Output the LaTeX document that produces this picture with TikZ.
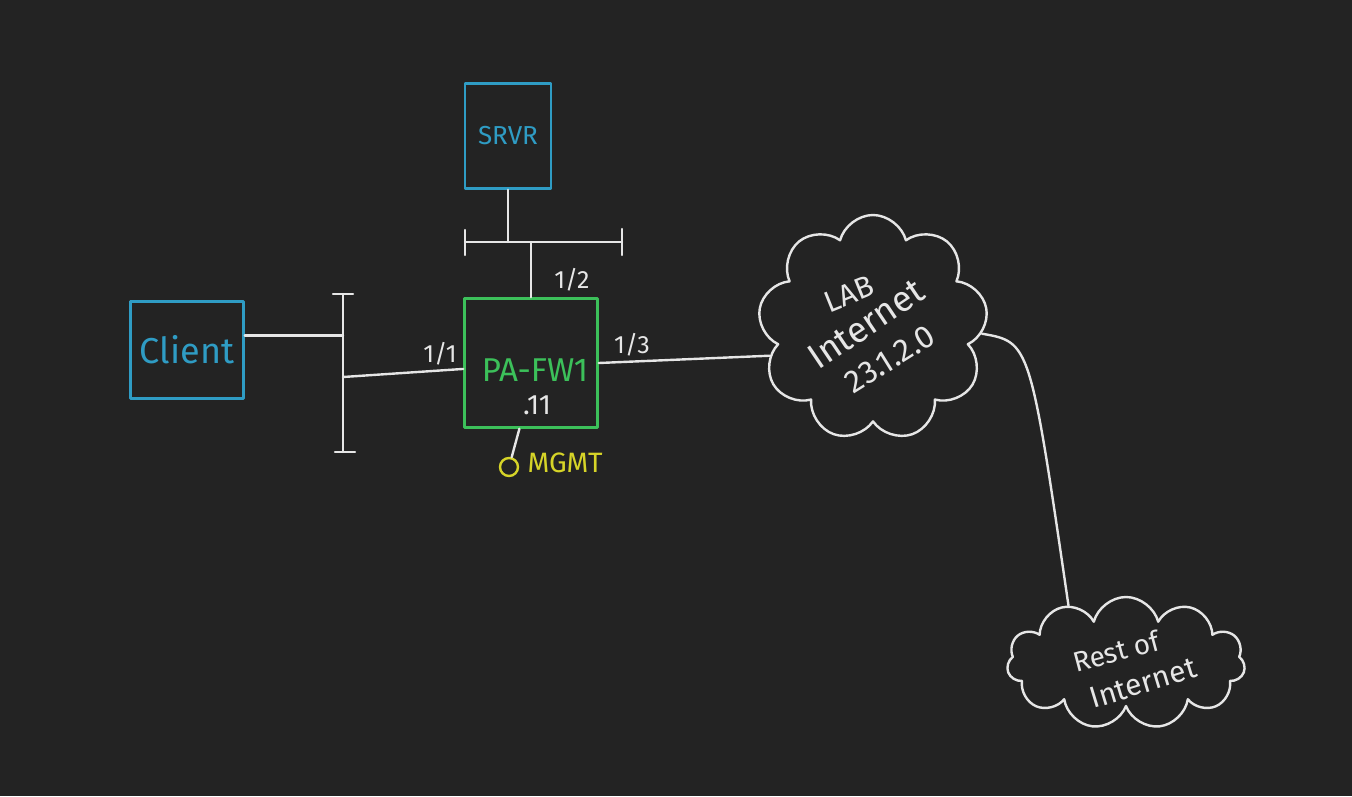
\documentclass[tikz,border=0pt]{standalone}
\usepackage{fontspec}
\setmainfont{Fira Sans}
\usetikzlibrary{shapes.symbols}
\definecolor{board}{HTML}{232323}
\definecolor{chalk}{HTML}{E6E6E6}
\definecolor{srvblue}{HTML}{2F9CC4}
\definecolor{fwgreen}{HTML}{3CC05A}
\definecolor{mgmtyellow}{HTML}{D6D428}
\newcommand{\fsz}[2]{\fontsize{#1}{#2}\selectfont}
\begin{document}
\begin{tikzpicture}[x=1pt, y=-1pt, line join=round, line cap=round,
	wire/.style={draw=chalk, line width=2.4pt},
	dev/.style={draw, line width=2.6pt, inner sep=0pt},
	puff/.style={cloud, draw=chalk, line width=2.4pt, inner sep=0pt, cloud puffs=9},
	lbl/.style={text=chalk, inner sep=1pt, font=\fsz{25}{28}},
	scrawl/.style={text=chalk, inner sep=0pt}]
	\fill[board] (0,0) rectangle (1352,796);
	% devices
	\node[dev, draw=srvblue, text=srvblue, minimum width=86pt, minimum height=105pt, font=\fsz{26}{30}] (srvr) at (508,136) {SRVR};
	\node[dev, draw=srvblue, text=srvblue, minimum width=113pt, minimum height=97pt, font=\fsz{36}{40}] (client) at (187,350) {Client};
	\node[dev, draw=fwgreen, minimum width=133pt, minimum height=129pt] (fw) at (531,363) {};
	\node[text=fwgreen, font=\fsz{33}{36}] (fwname) at (535,370) {PA-FW1};
	\node[text=chalk, font=\fsz{28}{30}] (fwip) at (537,405) {.11};
	% bus bars
	\coordinate (lbT) at (343,294);
	\coordinate (lbB) at (343,452);
	\coordinate (lb1) at (343,377);
	\coordinate (tbL) at (465,242);
	\coordinate (tbR) at (622,242);
	\draw[wire] (lbT) -- (lbB) (333,294) -- (353,294) (335,452) -- (355,452);
	\draw[wire] (tbL) -- (tbR) (465,230) -- (465,255) (622,229) -- (622,255);
	% clouds
	\node[puff, minimum width=230pt, minimum height=226pt] (lab) at (873,328) {};
	\node[puff, minimum width=238pt, minimum height=132pt, cloud puffs=11] (rest) at (1126,663) {};
	\node[scrawl, rotate=22, font=\fsz{30}{30}] (labtxt1) at (849,294) {LAB};
	\node[scrawl, rotate=34, font=\fsz{36}{36}] (labtxt2) at (866,324) {Internet};
	\node[scrawl, rotate=32, font=\fsz{32}{32}] (labtxt3) at (890,359) {23.1.2.0};
	\node[scrawl, rotate=15, font=\fsz{28}{28}] (resttxt1) at (1116,651) {Rest of};
	\node[scrawl, rotate=17, font=\fsz{30}{30}] (resttxt2) at (1143,683) {Internet};
	% links
	\draw[wire] (client.14) -- (client.14 -| lbT);
	\draw[wire] (lb1) -- (fw.185);
	\draw[wire] (fw.north) -- (fw.north |- tbL);
	\draw[wire] (srvr.south) -- (srvr.south |- tbL);
	\draw[wire] (fw.east) -- (lab.195);
	\draw[wire] (lab.-3) .. controls (1030,342) .. (rest.135);
	% ports
	\node[lbl] (p11) at (440,354) {1/1};
	\node[lbl] (p12) at (572,280) {1/2};
	\node[lbl] (p13) at (632,345) {1/3};
	% management
	\node[draw=mgmtyellow, line width=2.4pt, circle, minimum size=18pt, inner sep=0pt] (mgmtpt) at (509,467) {};
	\node[text=mgmtyellow, font=\fsz{28}{30}, anchor=west] (mgmt) at (524,463) {MGMT};
	\draw[wire] (fw.-100) -- (mgmtpt);
\end{tikzpicture}
\end{document}
